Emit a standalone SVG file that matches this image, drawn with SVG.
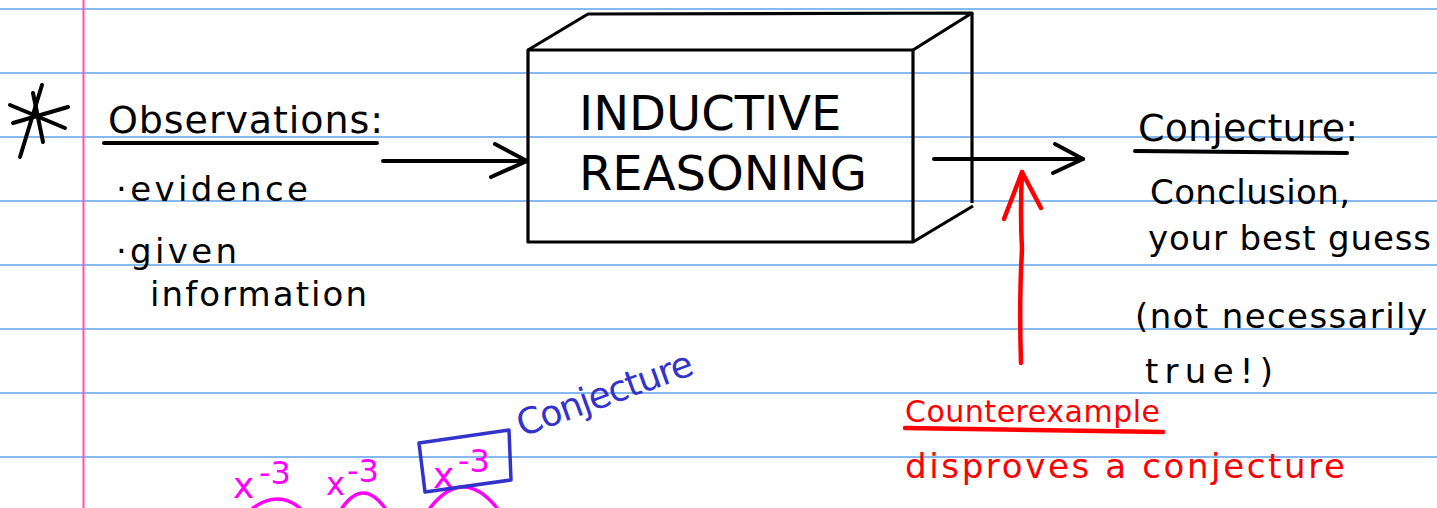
<svg xmlns="http://www.w3.org/2000/svg" width="1437" height="508" viewBox="0 0 1437 508">
<style>
.rule{stroke:#5ea2ea;stroke-width:1.6}
.ink{fill:none;stroke:#000;stroke-width:4;stroke-linecap:round;stroke-linejoin:round}
.box{fill:none;stroke:#000;stroke-width:3.2;stroke-linejoin:round}
.hand{font-family:"DejaVu Sans",sans-serif;fill:#000}
.red{fill:#ff0000}
.redl{fill:none;stroke:#ff0000;stroke-width:4.5;stroke-linecap:round;stroke-linejoin:round}
.mag{fill:none;stroke:#ff00ff;stroke-width:3.5;stroke-linecap:round}
.magt{font-family:"DejaVu Sans",sans-serif;fill:#ff00ff}
.blue{fill:none;stroke:#3333cc;stroke-width:3.5;stroke-linejoin:round}
</style>
<rect width="1437" height="508" fill="#fff"/>
<g id="paper">
<line class="rule" x1="0" y1="9" x2="1437" y2="9"/>
<line class="rule" x1="0" y1="73" x2="1437" y2="73"/>
<line class="rule" x1="0" y1="137" x2="1437" y2="137"/>
<line class="rule" x1="0" y1="201" x2="1437" y2="201"/>
<line class="rule" x1="0" y1="265" x2="1437" y2="265"/>
<line class="rule" x1="0" y1="329" x2="1437" y2="329"/>
<line class="rule" x1="0" y1="393" x2="1437" y2="393"/>
<line class="rule" x1="0" y1="457" x2="1437" y2="457"/>
<line x1="83.5" y1="0" x2="83.5" y2="508" stroke="#ff4fb0" stroke-width="2"/>
</g>
<g id="asterisk" class="ink">
<line x1="42" y1="85" x2="20" y2="157"/>
<line x1="10" y1="105" x2="65" y2="128"/>
<line x1="13" y1="123" x2="68" y2="107"/>
<line x1="33" y1="93" x2="43" y2="142"/>
</g>
<g id="observations">
<text class="hand" x="108" y="133" font-size="38" textLength="275" lengthAdjust="spacing">Observations:</text>
<line class="ink" x1="104" y1="143" x2="377" y2="143" stroke-width="3.5"/>
<text class="hand" x="116" y="201" font-size="34" textLength="192" lengthAdjust="spacing">·evidence</text>
<text class="hand" x="116" y="263" font-size="34" textLength="121" lengthAdjust="spacing">·given</text>
<text class="hand" x="150" y="306" font-size="34" textLength="217" lengthAdjust="spacing">information</text>
</g>
<g id="inductive-reasoning">
<polygon class="box" points="528,50 913,50 913,242 528,242"/>
<polyline class="box" points="528,50 588,14 972,13 913,50"/>
<polyline class="box" points="972,13 972,203"/>
<polyline class="box" points="973,206 913,242"/>
<text x="579" y="130" font-family="DejaVu Sans,sans-serif" font-size="48" fill="#000">INDUCTIVE</text>
<text x="579" y="190" font-family="DejaVu Sans,sans-serif" font-size="48" fill="#000">REASONING</text>
</g>
<g id="conjecture">
<text class="hand" x="1138" y="141" font-size="38" textLength="220" lengthAdjust="spacing">Conjecture:</text>
<line class="ink" x1="1135" y1="151" x2="1347" y2="153" stroke-width="3.5"/>
<text class="hand" x="1150" y="204" font-size="34" textLength="200" lengthAdjust="spacing">Conclusion,</text>
<text class="hand" x="1148" y="250" font-size="34" textLength="283" lengthAdjust="spacing">your best guess</text>
<text class="hand" x="1135" y="328" font-size="34" textLength="292" lengthAdjust="spacing">(not necessarily</text>
<text class="hand" x="1145" y="383" font-size="34" textLength="128" lengthAdjust="spacing">true!)</text>
</g>
<g id="counterexample">
<text class="hand red" x="905" y="422" font-size="30" textLength="255" lengthAdjust="spacing">Counterexample</text>
<line class="redl" x1="905" y1="428" x2="1163" y2="432" stroke-width="3.5"/>
<text class="hand red" x="905" y="478" font-size="34" textLength="440" lengthAdjust="spacing">disproves a conjecture</text>
</g>
<g id="example">
<text class="magt" x="233" y="498" font-size="36">x</text>
<text class="magt" x="259" y="484" font-size="32">-3</text>
<text class="magt" x="326" y="495" font-size="32">x</text>
<text class="magt" x="347" y="482" font-size="32">-3</text>
<text class="magt" x="433" y="488" font-size="36">x</text>
<text class="magt" x="458" y="472" font-size="32">-3</text>
<path class="mag" d="M253,508 Q278,490 300,508"/>
<path class="mag" d="M342,508 Q363,478 385,508"/>
<path class="mag" d="M430,508 Q463,466 497,508"/>
<polygon class="blue" points="419,443 509,430 511,480 425,492"/>
<text x="522" y="437" transform="rotate(-20 522 437)" font-family="DejaVu Sans,sans-serif" font-size="36" fill="#3333cc" textLength="185" lengthAdjust="spacing">Conjecture</text>
</g>
<g id="connectors">
<g class="ink" stroke-width="5">
<line x1="383" y1="161" x2="527" y2="161"/>
<polyline points="495,144 527,161 491,177"/>
<line x1="934" y1="159" x2="1083" y2="159"/>
<polyline points="1055,144 1083,159 1053,173"/>
</g>
<g class="redl" stroke-width="5">
<path d="M1021,363 Q1019,300 1022,250 Q1020,210 1022,172"/>
<polyline points="1004,219 1022,172 1041,208"/>
</g>
</g>
</svg>
